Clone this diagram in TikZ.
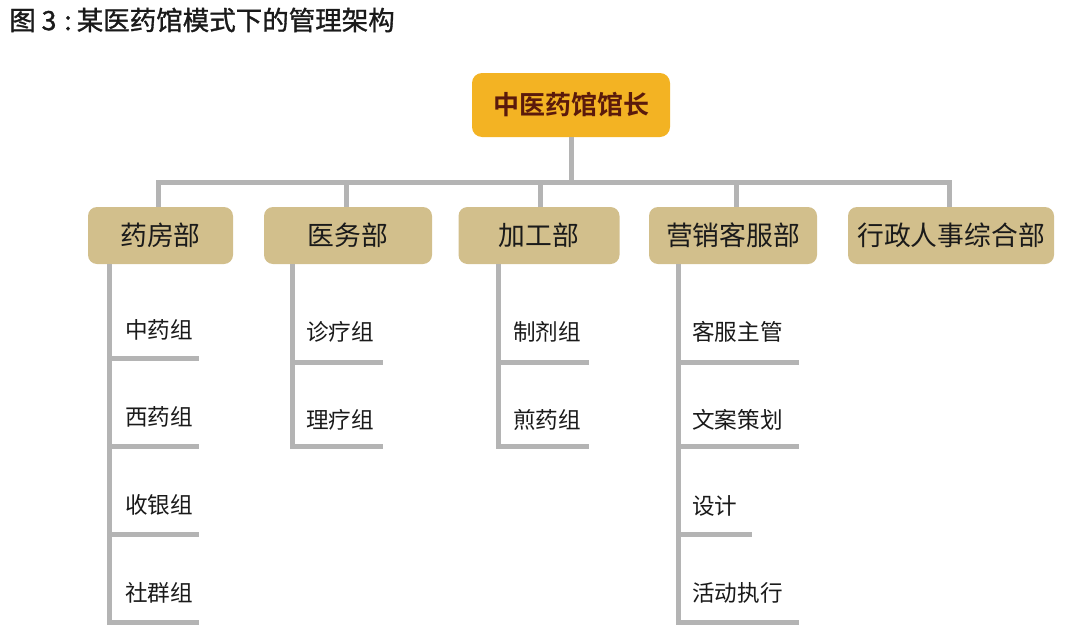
\documentclass[tikz,border=0pt]{standalone}
\usepackage{fontspec}
\setmainfont{Noto Sans CJK SC}[BoldFont={Noto Sans CJK SC Bold}]
\newfontfamily\titlefont{Noto Sans CJK SC}[FakeBold=1.2]
\definecolor{linegray}{HTML}{B4B4B4}
\definecolor{topfill}{HTML}{F3B323}
\definecolor{topfont}{HTML}{5A1A0C}
\definecolor{deptfill}{HTML}{D2BF8C}
\definecolor{txt}{HTML}{1A1A1A}
\begin{document}
\begin{tikzpicture}[x=1pt,y=-1pt,
  conn/.style={draw=linegray,line width=5pt},
  topbox/.style={fill=topfill,rounded corners=10pt,minimum width=198pt,minimum height=64pt,inner sep=0pt,text=topfont,font=\fontsize{26}{30}\selectfont\bfseries},
  deptbox/.style={fill=deptfill,rounded corners=9pt,minimum height=57pt,inner sep=0pt,text=txt,font=\fontsize{26.8}{30}\selectfont},
  sublabel/.style={anchor=west,inner sep=0pt,text=txt,font=\fontsize{22.6}{26}\selectfont},
  titlestyle/.style={anchor=west,inner sep=0pt,text=txt,font=\fontsize{26.5}{30}\titlefont}]
\useasboundingbox (0,0) rectangle (1074,640);
\node[titlestyle] (title) at (9,20) {图\hspace{6pt}3\hspace{8pt}:\hspace{5pt}某医药馆模式下的管理架构};
% top
\node[topbox] (top) at (571,105) {中医药馆馆长};
% departments
\node[deptbox,minimum width=145pt] (d1) at (160.5,235.5) {药房部};
\node[deptbox,minimum width=168pt] (d2) at (348,235.5) {医务部};
\node[deptbox,minimum width=161pt] (d3) at (539,235.5) {加工部};
\node[deptbox,minimum width=168pt] (d4) at (733,235.5) {营销客服部};
\node[deptbox,minimum width=206pt] (d5) at (951,235.5) {行政人事综合部};
% bus
\coordinate (busL) at (158,182.5);
\coordinate (busR) at (949,182.5);
\coordinate (busM) at (571,182.5);
\draw[conn] (top.south) -- (busM);
\draw[conn,line cap=rect] (busL) -- (busR);
\draw[conn] (busL) -- (158,207);
\draw[conn] (346,182.5) -- (346,207);
\draw[conn] (540,182.5) -- (540,207);
\draw[conn] (736,182.5) -- (736,207);
\draw[conn] (busR) -- (949,207);
% sub labels
\node[sublabel] (s11) at (125,330) {中药组};
\node[sublabel] (s12) at (125,417) {西药组};
\node[sublabel] (s13) at (125,505) {收银组};
\node[sublabel] (s14) at (125,593) {社群组};
\node[sublabel] (s21) at (306,332) {诊疗组};
\node[sublabel] (s22) at (306,420) {理疗组};
\node[sublabel] (s31) at (513,332) {制剂组};
\node[sublabel] (s32) at (513,420) {煎药组};
\node[sublabel] (s41) at (692,332) {客服主管};
\node[sublabel] (s42) at (692,420) {文案策划};
\node[sublabel] (s43) at (692,506) {设计};
\node[sublabel] (s44) at (692,593) {活动执行};
% sub trees
\coordinate (v1) at (109,264);
\draw[conn] (v1) -- (109,622) -- (199,622);
\draw[conn] (109,358) -- (199,358);
\draw[conn] (109,446) -- (199,446);
\draw[conn] (109,534) -- (199,534);
\coordinate (v2) at (292,264);
\draw[conn] (v2) -- (292,446) -- (383,446);
\draw[conn] (292,362) -- (383,362);
\coordinate (v3) at (498,264);
\draw[conn] (v3) -- (498,446) -- (589,446);
\draw[conn] (498,362) -- (589,362);
\coordinate (v4) at (678,264);
\draw[conn] (v4) -- (678,622) -- (799,622);
\draw[conn] (678,362) -- (799,362);
\draw[conn] (678,446) -- (799,446);
\draw[conn] (678,534) -- (752,534);
\end{tikzpicture}
\end{document}
